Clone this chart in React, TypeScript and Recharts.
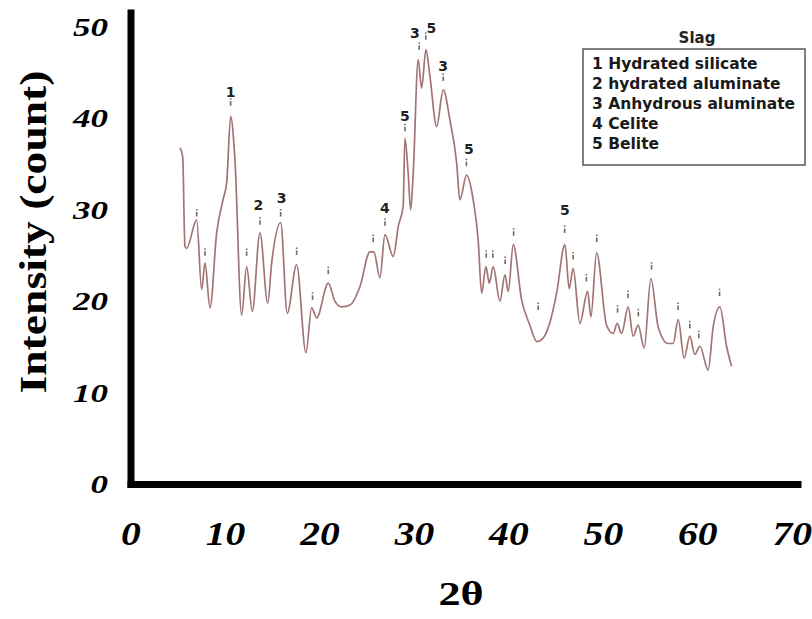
import { ComposedChart, Line, Scatter, XAxis, YAxis } from 'recharts'

// XRD trace of slag
const twoTheta = [
  5.19, 5.47, 5.71, 5.89, 6.95, 7.48, 7.83, 8.36, 9.07, 9.74, 10.13, 10.55, 11.0,
  11.71, 12.24, 12.84, 13.65, 14.47, 14.89, 15.84, 16.54, 17.53, 18.52, 19.12,
  19.65, 20.88, 21.59, 22.3, 23.17, 24.23, 25.29, 25.71, 26.35, 26.88, 27.76,
  28.29, 28.81, 28.99, 29.34, 29.6, 29.87, 30.4, 30.76, 31.22, 31.64, 32.35,
  33.05, 33.76, 34.47, 34.81, 35.52, 36.22, 36.75, 37.11, 37.57, 37.92, 38.34,
  39.05, 39.58, 39.93, 40.46, 41.34, 42.22, 42.96, 43.63, 44.34, 45.05, 45.93,
  46.38, 46.8, 47.51, 48.33, 48.68, 49.28, 50.34, 51.04, 51.46, 51.93, 52.63,
  53.15, 53.68, 54.32, 55.03, 55.8, 56.86, 57.39, 57.92, 58.55, 59.15, 59.68,
  60.21, 61.09, 61.62, 62.33, 63.04, 63.57,
]

const intensity = [
  36.8, 35.8, 26.0, 25.8, 28.9, 21.3, 24.2, 19.3, 27.5, 31.1, 33.0, 40.2, 35.5,
  18.5, 23.8, 18.9, 27.5, 19.8, 24.2, 28.6, 18.7, 24.0, 14.4, 19.3,
  18.2, 22.0, 20.0, 19.4, 19.6, 21.6, 25.4, 25.4, 22.6, 27.3, 24.9,
  28.2, 30.4, 37.8, 34.0, 30.0, 34.0, 46.4, 43.3, 47.5, 44.6, 39.1,
  43.1, 39.8, 35.1, 31.1, 33.8, 31.1, 26.7, 20.9, 23.8, 22.0, 23.8,
  20.0, 22.9, 21.1, 26.2, 20.2, 17.4, 15.6, 16.0, 17.7, 20.9, 26.2,
  21.4, 23.6, 17.6, 21.1, 18.3, 25.3, 17.4, 16.5, 17.6, 16.5, 19.4,
  16.2, 17.4, 14.9, 22.5, 17.2, 15.4, 15.4, 18.0, 13.8, 16.2, 14.2,
  15.1, 12.5, 17.2, 19.4, 15.1, 12.9,
]

// small peak ticks above the trace
const markTheta = [
  6.95, 7.83, 10.55, 12.24, 13.65, 15.84, 17.53, 19.22, 20.88, 25.64, 26.88,
  29.0, 30.5, 31.2, 33.05, 35.5, 37.6, 38.3, 39.6, 40.5, 43.1, 45.9, 46.8,
  48.2, 49.3, 51.5, 52.6, 53.7, 55.1, 57.9, 59.15, 60.1, 62.3,
]
const markIntensity = [
  29.6, 25.3, 41.7, 25.3, 28.7, 29.6, 25.4, 20.5, 23.3, 26.8, 28.6,
  38.9, 47.8, 48.9, 44.4, 35.1, 25.1, 25.1, 24.4, 27.5, 19.4, 27.8, 24.9,
  22.5, 26.8, 19.1, 20.7, 18.7, 23.8, 19.4, 17.4, 16.3, 20.9,
]

// phase numbers over the main peaks
const labelTheta = [10.55, 13.47, 15.95, 26.88, 29.0, 30.05, 31.8, 33.05, 35.77, 45.93]
const labelIntensity = [42.9, 30.5, 31.3, 30.2, 40.2, 49.3, 49.9, 45.7, 36.6, 30.0]
const labelText = ['1', '2', '3', '4', '5', '3', '5', '3', '5', '5']

const xTicks = [0, 10, 20, 30, 40, 50, 60, 70]
const yTicks = [0, 10, 20, 30, 40, 50]

const legendTitle = 'Slag'
const legendItems = [
  '1 Hydrated silicate',
  '2 hydrated aluminate',
  '3 Anhydrous aluminate',
  '4 Celite',
  '5 Belite',
]

const curve = twoTheta.map((x, i) => ({ x, y: intensity[i] }))
const marks = markTheta.map((x, i) => ({ x, y: markIntensity[i] }))
const peakLabels = labelTheta.map((x, i) => ({ x, y: labelIntensity[i], text: labelText[i] }))

const serif = '"Liberation Serif", "Times New Roman", serif'
const sans = '"DejaVu Sans", Verdana, sans-serif'

function XTick({ x, y, payload }: any) {
  return (
    <text
      transform={`translate(${x},${y}) scale(1.2,1)`}
      textAnchor="middle"
      dy="0.71em"
      fontFamily={serif}
      fontWeight="bold"
      fontStyle="italic"
      fontSize={33}
      fill="#000"
    >
      {payload.value}
    </text>
  )
}

function YTick({ x, y, payload }: any) {
  return (
    <text
      transform={`translate(${x},${y}) scale(1.4,1)`}
      textAnchor="end"
      dy="0.355em"
      fontFamily={serif}
      fontWeight="bold"
      fontStyle="italic"
      fontSize={25}
      fill="#000"
    >
      {payload.value}
    </text>
  )
}

function Dash({ cx, cy }: any) {
  return (
    <g stroke="#6b6b6b" strokeWidth={1.6}>
      <line x1={cx} y1={cy - 4.5} x2={cx} y2={cy - 3} />
      <line x1={cx} y1={cy - 1.5} x2={cx} y2={cy + 3} />
    </g>
  )
}

function PeakNumber({ cx, cy, payload }: any) {
  return (
    <text
      x={cx}
      y={cy}
      textAnchor="middle"
      dominantBaseline="central"
      fontFamily={sans}
      fontWeight="bold"
      fontSize={14}
      fill="#222"
    >
      {payload.text}
    </text>
  )
}

export default function App() {
  return (
    <div style={{ position: 'absolute', left: 0, top: 0, width: 812, height: 619, background: '#fff' }}>
      <ComposedChart
        width={812}
        height={619}
        margin={{ top: 13, right: 14, bottom: 34.5, left: 0 }}
      >
        <XAxis
          type="number"
          dataKey="x"
          domain={[0, 70.6]}
          ticks={xTicks}
          tick={<XTick />}
          tickSize={0}
          tickMargin={37}
          tickLine={false}
          height={100}
          axisLine={{ stroke: '#000', strokeWidth: 7, strokeLinecap: 'square' }}
          label={{
            content: () => (
              <text
                transform="translate(461,605) scale(1.3,1)"
                textAnchor="middle"
                fontFamily={serif}
                fontWeight="bold"
                fontSize={34}
                fill="#000"
              >
                2θ
              </text>
            ),
          }}
        />
        <YAxis
          type="number"
          domain={[0, 51.5]}
          ticks={yTicks}
          tick={<YTick />}
          tickSize={0}
          tickMargin={23}
          tickLine={false}
          width={131}
          axisLine={{ stroke: '#000', strokeWidth: 7, strokeLinecap: 'square' }}
          label={{
            content: () => (
              <text
                transform="translate(46,232) rotate(-90)"
                textAnchor="middle"
                fontFamily={serif}
                fontWeight="bold"
                fontSize={38}
                textLength={323}
                lengthAdjust="spacingAndGlyphs"
                fill="#000"
              >
                Intensity (count)
              </text>
            ),
          }}
        />
        <Line
          data={curve}
          dataKey="y"
          type="monotone"
          stroke="#a37476"
          strokeWidth={1.7}
          dot={false}
          activeDot={false}
          isAnimationActive={false}
        />
        <Scatter data={marks} dataKey="y" shape={<Dash />} isAnimationActive={false} />
        <Scatter data={peakLabels} dataKey="y" shape={<PeakNumber />} isAnimationActive={false} />
      </ComposedChart>

      <svg
        width={812}
        height={619}
        style={{ position: 'absolute', left: 0, top: 0, pointerEvents: 'none' }}
      >
        <text
          x={697}
          y={43}
          textAnchor="middle"
          fontFamily={sans}
          fontWeight="bold"
          fontSize={15}
          fill="#222"
        >
          {legendTitle}
        </text>
        <rect x={583} y={49} width={222} height={116} fill="none" stroke="#555" strokeWidth={1.5} />
        {legendItems.map((item, i) => (
          <text
            key={item}
            x={592}
            y={69 + i * 20}
            fontFamily={sans}
            fontWeight="bold"
            fontSize={15.5}
            fill="#1a1a1a"
          >
            {item}
          </text>
        ))}
      </svg>
    </div>
  )
}
